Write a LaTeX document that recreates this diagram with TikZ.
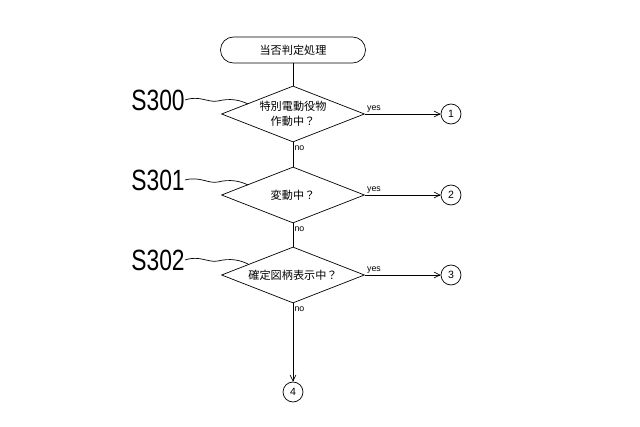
\documentclass[tikz,border=0pt]{standalone}
\usepackage{fontspec}
\setmainfont{Noto Sans CJK JP}
\newfontfamily\labelfont{Liberation Sans}
\usetikzlibrary{shapes.geometric,arrows.meta}
\tikzset{terminal/.style = {draw, rounded corners=11pt, minimum width=145*0.03cm, minimum height=26*0.03cm, inner sep=0, font=\fontsize{9.5}{11}\selectfont}}
\tikzset{decision/.style = {draw, diamond, aspect=2.55, minimum width=143*0.03cm, minimum height=56*0.03cm, inner sep=0, font=\fontsize{9.5}{13}\selectfont, align=center}}
\tikzset{conn/.style = {draw, circle, minimum size=20*0.03cm, inner sep=0, font=\labelfont\fontsize{9}{10}\selectfont}}
\tikzset{steplabel/.style = {font=\labelfont\fontsize{25}{26}\selectfont, xscale=0.78, inner sep=0}}
\tikzset{flow/.style = {-{Straight Barb[length=5pt,width=5pt]}}}
\tikzset{small/.style = {font=\labelfont\fontsize{7.5}{8}\selectfont, inner sep=1pt}}
\begin{document}
\begin{tikzpicture}[x=0.03cm, y=-0.03cm, line width=0.6pt]
      \useasboundingbox (0, 0) rectangle (640, 427);
      \node [terminal] (start) at (293, 50) {当否判定処理};
      \node [decision] (d0) at (293, 114) {特別電動役物\\作動中？};
      \node [decision] (d1) at (293, 195) {変動中？};
      \node [decision] (d2) at (293, 275) {確定図柄表示中？};
      \node [conn] (c1) at (451, 114) {1};
      \node [conn] (c2) at (451, 195) {2};
      \node [conn] (c3) at (451, 275) {3};
      \node [conn] (c4) at (293, 392) {4};
      \draw (start) -- (d0);
      \draw (d0) -- node [small, right, pos=0.25] {no} (d1);
      \draw (d1) -- node [small, right, pos=0.25] {no} (d2);
      \draw [flow] (d2) -- node [small, right, pos=0.08] {no} (c4);
      \draw [flow] (d0.east) -- node [small, above, pos=0.12] {yes} (c1);
      \draw [flow] (d1.east) -- node [small, above, pos=0.12] {yes} (c2);
      \draw [flow] (d2.east) -- node [small, above, pos=0.12] {yes} (c3);
      \node [steplabel] (s0) at (158, 100) {S300};
      \node [steplabel] (s1) at (158, 180) {S301};
      \node [steplabel] (s2) at (158, 260) {S302};
      % lead lines from step labels
      \foreach \s/\y in {s0/100, s1/181, s2/260} {
        \draw (\s.east) .. controls (200, \y-5) and (208, \y+3) .. (218, \y+1)
              .. controls (230, \y-2) and (240, \y) .. (248, \y+4);
      }
\end{tikzpicture}
\end{document}
